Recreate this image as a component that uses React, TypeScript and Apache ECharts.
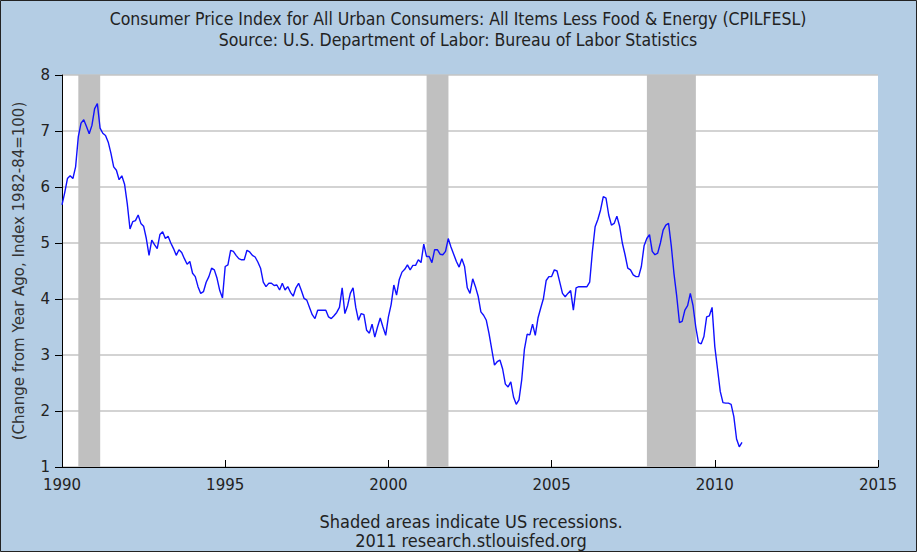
import React, { useEffect, useRef } from "react";
import * as echarts from "echarts";

const startYear = 1990;
const cpi1990 = [5.68, 5.9, 6.15, 6.2, 6.15, 6.36, 6.9, 7.14, 7.2, 7.08, 6.95, 7.1];
const cpi1991 = [7.4, 7.49, 7.05, 6.96, 6.92, 6.8, 6.6, 6.36, 6.3, 6.13, 6.2, 6.05];
const cpi1992 = [5.7, 5.25, 5.38, 5.4, 5.5, 5.35, 5.3, 5.08, 4.78, 5.05, 4.97, 4.9];
const cpi1993 = [5.15, 5.2, 5.08, 5.12, 5.0, 4.9, 4.78, 4.88, 4.83, 4.72, 4.62, 4.67];
const cpi1994 = [4.46, 4.4, 4.22, 4.1, 4.13, 4.3, 4.4, 4.55, 4.52, 4.37, 4.15, 4.02];
const cpi1995 = [4.58, 4.61, 4.87, 4.85, 4.78, 4.72, 4.7, 4.7, 4.87, 4.84, 4.78, 4.75];
const cpi1996 = [4.66, 4.55, 4.3, 4.22, 4.28, 4.28, 4.24, 4.25, 4.16, 4.28, 4.16, 4.22];
const cpi1997 = [4.12, 4.05, 4.2, 4.28, 4.15, 4.01, 3.98, 3.85, 3.72, 3.65, 3.8, 3.8];
const cpi1998 = [3.8, 3.8, 3.68, 3.65, 3.7, 3.76, 3.85, 4.2, 3.74, 3.88, 4.1, 4.2];
const cpi1999 = [3.85, 3.62, 3.74, 3.72, 3.44, 3.39, 3.55, 3.32, 3.5, 3.66, 3.5, 3.35];
const cpi2000 = [3.68, 3.9, 4.25, 4.07, 4.35, 4.48, 4.53, 4.61, 4.52, 4.6, 4.6, 4.7];
const cpi2001 = [4.65, 4.98, 4.76, 4.76, 4.65, 4.88, 4.88, 4.8, 4.79, 4.85, 5.08, 4.93];
const cpi2002 = [4.8, 4.67, 4.57, 4.72, 4.58, 4.2, 4.1, 4.36, 4.22, 4.05, 3.77, 3.71];
const cpi2003 = [3.62, 3.38, 3.1, 2.82, 2.88, 2.91, 2.75, 2.48, 2.43, 2.52, 2.25, 2.12];
const cpi2004 = [2.2, 2.55, 3.1, 3.37, 3.36, 3.55, 3.35, 3.66, 3.84, 4.01, 4.33, 4.4];
const cpi2005 = [4.4, 4.52, 4.5, 4.3, 4.1, 4.04, 4.1, 4.15, 3.8, 4.2, 4.22, 4.22];
const cpi2006 = [4.22, 4.22, 4.3, 4.85, 5.29, 5.42, 5.59, 5.83, 5.8, 5.5, 5.32, 5.35];
const cpi2007 = [5.48, 5.3, 5.0, 4.79, 4.55, 4.52, 4.43, 4.4, 4.4, 4.58, 4.95, 5.08];
const cpi2008 = [5.15, 4.85, 4.79, 4.82, 5.0, 5.23, 5.32, 5.35, 4.95, 4.45, 4.05, 3.58];
const cpi2009 = [3.6, 3.8, 3.88, 4.1, 3.88, 3.5, 3.22, 3.2, 3.33, 3.68, 3.7, 3.85];
const cpi2010 = [3.15, 2.75, 2.35, 2.15, 2.14, 2.14, 2.12, 1.9, 1.5, 1.36, 1.44];

const cpiByYear = [
  cpi1990, cpi1991, cpi1992, cpi1993, cpi1994, cpi1995, cpi1996,
  cpi1997, cpi1998, cpi1999, cpi2000, cpi2001, cpi2002, cpi2003,
  cpi2004, cpi2005, cpi2006, cpi2007, cpi2008, cpi2009, cpi2010,
];

const recessions = [
  [1990.5, 1991.17],
  [2001.17, 2001.84],
  [2007.92, 2009.42],
];

const titleLines = [
  "Consumer Price Index for All Urban Consumers: All Items Less Food & Energy (CPILFESL)",
  "Source: U.S. Department of Labor: Bureau of Labor Statistics",
];
const footerLines = [
  "Shaded areas indicate US recessions.",
  "2011 research.stlouisfed.org",
];
const yAxisName = "(Change from Year Ago, Index 1982-84=100)";

export default function App() {
  const ref = useRef<HTMLDivElement>(null);

  useEffect(() => {
    if (!ref.current) return;
    const chart = echarts.init(ref.current, null, { renderer: "svg" });

    const points: [number, number][] = [];
    cpiByYear.forEach((arr, yi) => {
      arr.forEach((v, mi) => {
        points.push([startYear + yi + mi / 12, v]);
      });
    });

    const condensed = "'DejaVu Sans Condensed', 'DejaVu Sans', sans-serif";
    const textEl = (text: string, x: number, y: number, size: number) => ({
      type: "text",
      x,
      y,
      silent: true,
      style: {
        text,
        fill: "#222",
        font: `${size}px ${condensed}`,
        textAlign: "center",
        textVerticalAlign: "middle",
      },
    });

    chart.setOption({
      animation: false,
      backgroundColor: "#B4CDE4",
      grid: {
        left: 62,
        right: 39,
        top: 75,
        bottom: 85,
        show: true,
        backgroundColor: "#ffffff",
        borderWidth: 0,
      },
      graphic: [
        {
          type: "rect",
          silent: true,
          shape: { x: 0.5, y: 0.5, width: 916, height: 551 },
          style: { fill: "none", stroke: "#222", lineWidth: 1 },
        },
        textEl(titleLines[0], 458, 19, 17.5),
        textEl(titleLines[1], 458, 40, 17.5),
        textEl(footerLines[0], 471, 521, 18),
        textEl(footerLines[1], 471, 540, 18),
      ],
      xAxis: {
        type: "value",
        min: 1990,
        max: 2015,
        interval: 5,
        axisLine: { show: true, lineStyle: { color: "#000", width: 1 } },
        axisTick: { show: true, inside: true, length: 7, lineStyle: { color: "#000" } },
        axisLabel: {
          color: "#222",
          fontSize: 15,
          fontFamily: "'DejaVu Sans', sans-serif",
          margin: 10,
          formatter: (v: number) => String(v),
        },
        splitLine: { show: false },
      },
      yAxis: {
        type: "value",
        min: 1,
        max: 8,
        interval: 1,
        name: yAxisName,
        nameLocation: "middle",
        nameGap: 36,
        nameRotate: 90,
        nameTextStyle: {
          color: "#333",
          fontSize: 15,
          fontFamily: "'DejaVu Sans', sans-serif",
        },
        axisLine: { show: true, lineStyle: { color: "#000", width: 1 } },
        axisTick: { show: true, inside: false, length: 7, lineStyle: { color: "#000" } },
        axisLabel: {
          color: "#222",
          fontSize: 15,
          fontFamily: "'DejaVu Sans', sans-serif",
          margin: 12,
        },
        splitLine: { show: true, lineStyle: { color: "#C4C4C4", width: 1.5 } },
      },
      series: [
        {
          type: "line",
          data: points,
          showSymbol: false,
          symbol: "none",
          lineStyle: { color: "#1010ff", width: 1.4 },
          z: 3,
          markArea: {
            silent: true,
            itemStyle: { color: "#C0C0C0", opacity: 1 },
            data: recessions.map(([a, b]) => [{ xAxis: a }, { xAxis: b }]),
          },
        },
      ],
    });

    return () => chart.dispose();
  }, []);

  return (
    <div
      ref={ref}
      style={{ position: "fixed", left: 0, top: 0, width: 917, height: 552 }}
    />
  );
}
